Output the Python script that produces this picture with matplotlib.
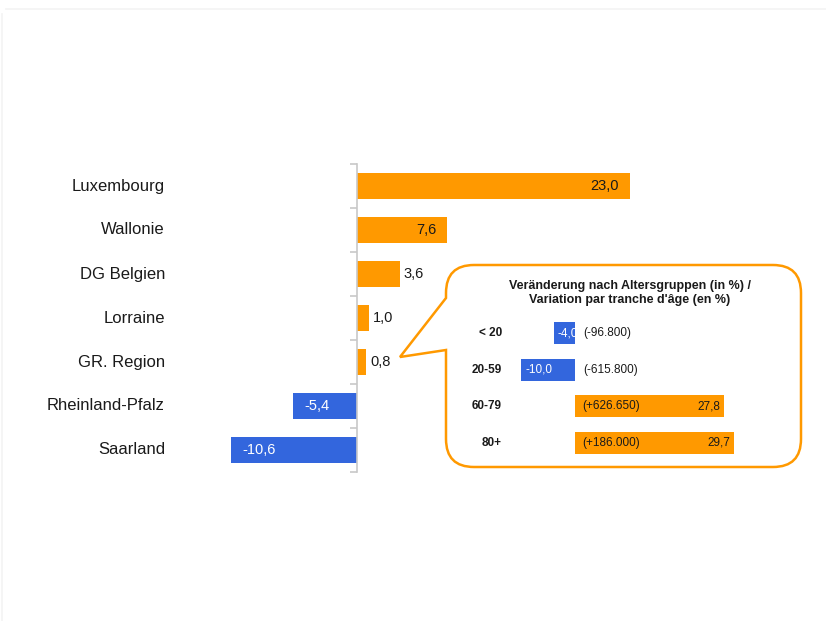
import matplotlib
matplotlib.use("Agg")
import matplotlib.pyplot as plt
from matplotlib.path import Path
from matplotlib.patches import PathPatch
from matplotlib.lines import Line2D

plt.rcParams['font.family'] = ['Liberation Sans', 'DejaVu Sans']

# ---- data ----
regions = ["Luxembourg", "Wallonie", "DG Belgien", "Lorraine", "GR. Region",
           "Rheinland-Pfalz", "Saarland"]
region_values = [23.0, 7.6, 3.6, 1.0, 0.8, -5.4, -10.6]

age_groups = ["< 20", "20-59", "60-79", "80+"]
age_values = [-4.0, -10.0, 27.8, 29.7]
age_counts = ["(-96.800)", "(-615.800)", "(+626.650)", "(+186.000)"]

box_title = "Veränderung nach Altersgruppen (in %) /\nVariation par tranche d'âge (en %)"

ORANGE = "#FF9900"
BLUE = "#3366DD"
TXT = "#1a1a1a"

W, H = 826, 621
fig = plt.figure(figsize=(W / 100, H / 100), dpi=100)
fig.patch.set_facecolor("white")


def fx(px):
    return px / W


def fy(py):
    return 1 - py / H


def fmt(v):
    return f"{v:.1f}".replace(".", ",")


# faint outer frame
fig.add_artist(Line2D([fx(6), fx(826)], [fy(9), fy(9)], color="#f3f3f3", lw=1.2,
                      transform=fig.transFigure))
fig.add_artist(Line2D([fx(2), fx(2)], [fy(14), fy(621)], color="#f3f3f3", lw=1.2,
                      transform=fig.transFigure))

# ---- main chart ----
zero_px, scale = 357, 11.87
left_px, right_px, top_px, bot_px = 220, 640, 164, 472
ax = fig.add_axes([fx(left_px), fy(bot_px), fx(right_px - left_px), (bot_px - top_px) / H])
ax.set_xlim((left_px - zero_px) / scale, (right_px - zero_px) / scale)
n = len(regions)
ax.set_ylim(n - 0.5, -0.5)
ypos = list(range(n))
colors = [ORANGE if v >= 0 else BLUE for v in region_values]
ax.barh(ypos, region_values, height=0.6, color=colors, zorder=2)

for s in ["top", "right", "bottom"]:
    ax.spines[s].set_visible(False)
ax.spines["left"].set_position(("data", 0))
ax.spines["left"].set_color("#c8c8c8")
ax.spines["left"].set_linewidth(1.2)
ax.set_xticks([])
ax.set_yticks([])
ax.set_yticks([i - 0.5 for i in range(n + 1)], minor=True)
ax.tick_params(axis="y", which="minor", length=5, width=1.2, color="#c8c8c8", direction="out")
ax.patch.set_alpha(0)

for i, (lab, v) in enumerate(zip(regions, region_values)):
    fig.text(fx(165), fy(top_px + 44 * i + 22), lab, ha="right", va="center",
             fontsize=12, color=TXT)
    if v >= 5:
        ax.annotate(fmt(v), (v, i), xytext=(-11, 0), textcoords="offset pixels",
                    ha="right", va="center", fontsize=10.5, color=TXT)
    elif v >= 0:
        ax.annotate(fmt(v), (v, i), xytext=(4, 0), textcoords="offset pixels",
                    ha="left", va="center", fontsize=10.5, color=TXT)
    else:
        ax.annotate(fmt(v), (v, i), xytext=(11, 0), textcoords="offset pixels",
                    ha="left", va="center", fontsize=10.5, color="white")

# ---- callout box ----
bx0, bx1, by0, by1, r = 446, 801, 265, 467, 28
pts = [
    ((bx0 + r, by0), Path.MOVETO),
    ((bx1 - r, by0), Path.LINETO),
    ((bx1, by0), Path.CURVE3), ((bx1, by0 + r), Path.CURVE3),
    ((bx1, by1 - r), Path.LINETO),
    ((bx1, by1), Path.CURVE3), ((bx1 - r, by1), Path.CURVE3),
    ((bx0 + r, by1), Path.LINETO),
    ((bx0, by1), Path.CURVE3), ((bx0, by1 - r), Path.CURVE3),
    ((bx0, 350), Path.LINETO),
    ((400, 357), Path.LINETO),
    ((bx0, 298), Path.LINETO),
    ((bx0, by0 + r), Path.LINETO),
    ((bx0, by0), Path.CURVE3), ((bx0 + r, by0), Path.CURVE3),
    ((bx0 + r, by0), Path.CLOSEPOLY),
]
verts = [(fx(x), fy(y)) for (x, y), _ in pts]
codes = [c for _, c in pts]
fig.add_artist(PathPatch(Path(verts, codes), facecolor="white", edgecolor=ORANGE,
                         lw=1.8, transform=fig.transFigure, zorder=3))

fig.text(fx(630), fy(293), box_title, ha="center", va="center", fontsize=9,
         fontweight="bold", color=TXT, linespacing=1.25, zorder=4)

# ---- inset chart ----
izero, iscale = 575, 5.37
il, ir, it, ib = 510, 745, 315, 461
iax = fig.add_axes([fx(il), fy(ib), fx(ir - il), (ib - it) / H], zorder=5)
iax.set_xlim((il - izero) / iscale, (ir - izero) / iscale)
m = len(age_groups)
iax.set_ylim(m - 0.5, -0.5)
icolors = [ORANGE if v >= 0 else BLUE for v in age_values]
iax.barh(range(m), age_values, height=0.6, color=icolors)
iax.axis("off")
step = (ib - it) / m
for i, (lab, v, c) in enumerate(zip(age_groups, age_values, age_counts)):
    fig.text(fx(502), fy(it + step * i + step / 2), lab, ha="right", va="center",
             fontsize=8.5, fontweight="bold", color=TXT, zorder=6)
    if v < 0:
        iax.annotate(fmt(v), (v, i), xytext=(4, 0), textcoords="offset pixels",
                     ha="left", va="center", fontsize=8.5, color="white")
        iax.annotate(c, (0, i), xytext=(8, 0), textcoords="offset pixels",
                     ha="left", va="center", fontsize=8.5, color=TXT)
    else:
        iax.annotate(fmt(v), (v, i), xytext=(-4, 0), textcoords="offset pixels",
                     ha="right", va="center", fontsize=8.5, color=TXT)
        iax.annotate(c, (0, i), xytext=(7, 0), textcoords="offset pixels",
                     ha="left", va="center", fontsize=8.5, color=TXT)

fig.savefig("out.png", dpi=100, facecolor="white")
